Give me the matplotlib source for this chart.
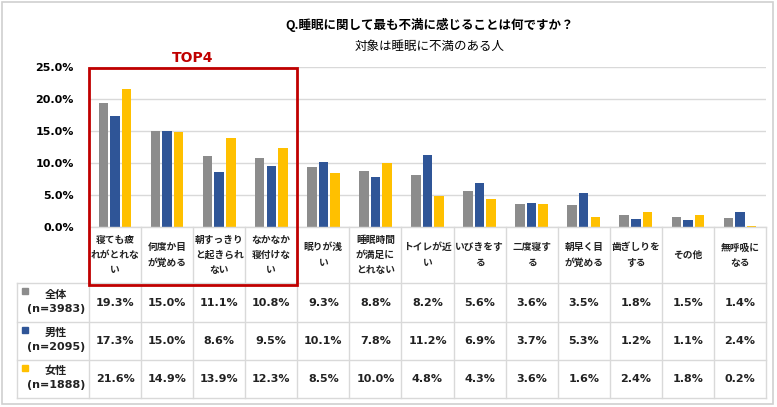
import matplotlib
matplotlib.use("Agg")
import matplotlib.pyplot as plt
from matplotlib.patches import Rectangle
from matplotlib.lines import Line2D
import matplotlib.transforms as mtransforms
import numpy as np

plt.rcParams['font.family'] = ['DejaVu Sans', 'Noto Sans CJK JP']

categories = ["寝ても疲\nれがとれな\nい", "何度か目\nが覚める", "朝すっきり\nと起きられ\nない",
              "なかなか\n寝付けな\nい", "眠りが浅\nい", "睡眠時間\nが満足に\nとれない",
              "トイレが近\nい", "いびきをす\nる", "二度寝す\nる", "朝早く目\nが覚める",
              "歯ぎしりを\nする", "その他", "無呼吸に\nなる"]
series_names = ["全体\n(n=3983)", "男性\n(n=2095)", "女性\n(n=1888)"]
total = [19.3, 15.0, 11.1, 10.8, 9.3, 8.8, 8.2, 5.6, 3.6, 3.5, 1.8, 1.5, 1.4]
male = [17.3, 15.0, 8.6, 9.5, 10.1, 7.8, 11.2, 6.9, 3.7, 5.3, 1.2, 1.1, 2.4]
female = [21.6, 14.9, 13.9, 12.3, 8.5, 10.0, 4.8, 4.3, 3.6, 1.6, 2.4, 1.8, 0.2]
yticks = [0, 5, 10, 15, 20, 25]
colors = ["#8c8c8c", "#2f5597", "#ffc000"]

W, H = 777, 407
fig = plt.figure(figsize=(W / 100, H / 100), dpi=100)

def fx(px):
    return px / W

def fy(py):
    return 1 - py / H

# outer border
fig.patches.append(Rectangle((fx(2), fy(404)), fx(773) - fx(2), fy(2) - fy(404),
                             transform=fig.transFigure, fill=False,
                             edgecolor="#d0d0d0", linewidth=1.2))

x_left, x_right = 89, 766
y_top, y_base = 67, 227
ax = fig.add_axes([fx(x_left), fy(y_base), fx(x_right) - fx(x_left), fy(y_top) - fy(y_base)])
n = len(categories)
x = np.arange(n)
step = 0.222
bw = 0.183
for i, (vals, c) in enumerate(zip([total, male, female], colors)):
    ax.bar(x + (i - 1) * step, vals, width=bw, color=c, zorder=3)
ax.set_xlim(-0.5, n - 0.5)
ax.set_ylim(0, 25)
ax.set_yticks(yticks)
ax.set_yticklabels([f"{v:.1f}%" for v in yticks], fontsize=8, fontweight="bold")
ax.tick_params(axis="y", length=0, pad=11)
ax.set_xticks([])
for s in ax.spines.values():
    s.set_visible(False)
ax.grid(axis="y", color="#d9d9d9", linewidth=1, zorder=0)
ax.set_axisbelow(True)

# title
fig.text(fx(430), fy(25), "Q.睡眠に関して最も不満に感じることは何ですか？", ha="center", va="center",
         fontsize=9, fontweight="bold", family=["Noto Sans CJK JP"])
fig.text(fx(430), fy(46), "対象は睡眠に不満のある人", ha="center", va="center",
         fontsize=9, family=["Noto Sans CJK JP"])

# table
t_left, t_top, t_bottom = 17, 227, 398
row_bounds = [227, 283, 322, 360, 398]
colw = (x_right - x_left) / n
line_c = "#d9d9d9"
for i, yb in enumerate(row_bounds):
    xs = x_left if i == 0 else t_left
    fig.add_artist(Line2D([fx(xs), fx(x_right)], [fy(yb), fy(yb)], color=line_c, lw=1,
                          transform=fig.transFigure))
for j in range(n + 1):
    xp = x_left + j * colw
    fig.add_artist(Line2D([fx(xp), fx(xp)], [fy(t_top), fy(t_bottom)], color=line_c, lw=1,
                          transform=fig.transFigure))
fig.add_artist(Line2D([fx(t_left), fx(t_left)], [fy(283), fy(t_bottom)], color=line_c, lw=1,
                      transform=fig.transFigure))

# category labels
for j, lab in enumerate(categories):
    cx = x_left + (j + 0.5) * colw
    fig.text(fx(cx), fy(255), lab, ha="center", va="center", fontsize=7, fontweight="bold",
             family=["Noto Sans CJK JP"], linespacing=1.65, color="#222222")

# rows
for r, (name, vals, c) in enumerate(zip(series_names, [total, male, female], colors)):
    y0, y1 = row_bounds[r + 1], row_bounds[r + 2]
    cy = (y0 + y1) / 2
    fig.patches.append(Rectangle((fx(22), fy(y0 + 11)), fx(6) - fx(0), fy(0) - fy(6),
                                 transform=fig.transFigure, color=c))
    fig.text(fx(56), fy(cy - 1), name, ha="center", va="center", fontsize=8, fontweight="bold",
             linespacing=1.5, color="#222222")
    for j, v in enumerate(vals):
        cx = x_left + (j + 0.5) * colw
        fig.text(fx(cx), fy(cy), f"{v:.1f}%", ha="center", va="center", fontsize=8,
                 fontweight="bold", color="#222222")

# TOP4 red box
trans = mtransforms.blended_transform_factory(ax.transData, fig.transFigure)
fig.patches.append(Rectangle((-0.5, fy(285)), 4.0, fy(68) - fy(285), transform=trans,
                             fill=False, edgecolor="#c00000", linewidth=2, clip_on=False, zorder=5))
fig.text(fx(193), fy(58), "TOP4", ha="center", va="center", fontsize=10, fontweight="bold",
         color="#c00000")

fig.savefig("out.png", dpi=100)
